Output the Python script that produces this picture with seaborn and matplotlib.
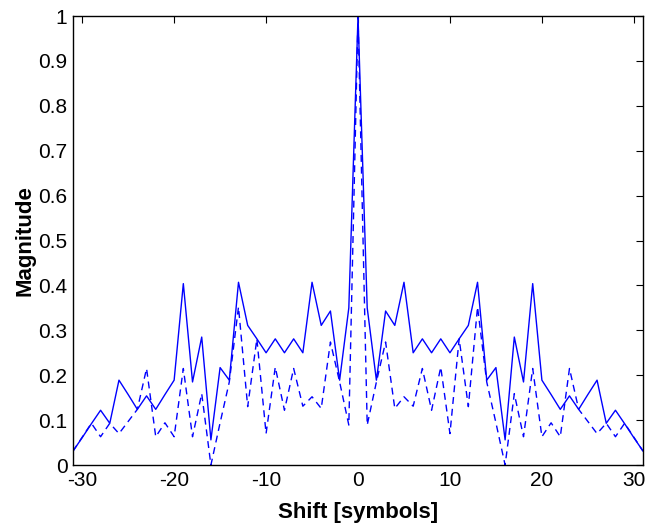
import numpy as np
import pandas as pd
import seaborn as sns
from matplotlib import pyplot as plt
from matplotlib.ticker import FuncFormatter

shift = list(range(-31, 32))

# solid curve
solid = [0.031, 0.061, 0.092, 0.122, 0.093, 0.189, 0.157, 0.124, 0.154, 0.124,
         0.157, 0.189, 0.404, 0.185, 0.285, 0.056, 0.217, 0.189, 0.407, 0.311,
         0.281, 0.250, 0.281, 0.250, 0.281, 0.250, 0.407, 0.311, 0.343, 0.189,
         0.350, 1.000,
         0.350, 0.189, 0.343, 0.311, 0.407, 0.250, 0.281, 0.250, 0.281, 0.250,
         0.281, 0.311, 0.407, 0.189, 0.217, 0.056, 0.285, 0.185, 0.404, 0.189,
         0.157, 0.124, 0.154, 0.124, 0.157, 0.189, 0.093, 0.122, 0.092, 0.061,
         0.031]

# dashed curve
dashed = [0.031, 0.062, 0.093, 0.063, 0.093, 0.070, 0.097, 0.124, 0.215, 0.063,
          0.094, 0.063, 0.215, 0.063, 0.159, 0.000, 0.094, 0.185, 0.352, 0.130,
          0.281, 0.070, 0.218, 0.122, 0.215, 0.131, 0.152, 0.126, 0.274, 0.185,
          0.089, 1.000,
          0.089, 0.185, 0.274, 0.126, 0.152, 0.131, 0.215, 0.122, 0.218, 0.070,
          0.281, 0.130, 0.352, 0.185, 0.094, 0.000, 0.159, 0.063, 0.215, 0.063,
          0.094, 0.063, 0.215, 0.124, 0.097, 0.070, 0.093, 0.063, 0.093, 0.062,
          0.031]

df = pd.DataFrame({'shift': shift, 'solid': solid, 'dashed': dashed})

sns.set_style('white')
plt.rcParams['font.family'] = ['Liberation Sans', 'DejaVu Sans']
plt.rcParams['text.color'] = 'black'
plt.rcParams['axes.labelcolor'] = 'black'
plt.rcParams['axes.unicode_minus'] = False

fig = plt.figure(figsize=(6.46, 5.27), dpi=100)
ax = fig.add_axes([0.113, 0.1176, 0.8824, 0.852])

sns.lineplot(data=df, x='shift', y='solid', ax=ax, color='#0000ff', linewidth=1.0)
sns.lineplot(data=df, x='shift', y='dashed', ax=ax, color='#0000ff', linewidth=1.0,
             dashes=False, linestyle=(0, (5, 3.5)))

ax.set_xlim(-31, 31)
ax.set_ylim(0, 1)
ax.set_xticks([-30, -20, -10, 0, 10, 20, 30])
ax.set_yticks(np.arange(0, 1.01, 0.1))
ax.yaxis.set_major_formatter(FuncFormatter(lambda v, p: '%g' % round(v, 1)))
ax.tick_params(direction='in', length=5, width=0.8, top=True, right=True,
               labelsize=15, colors='black', pad=4)
for s in ax.spines.values():
	s.set_visible(True)
	s.set_color('black')
	s.set_linewidth(1.0)

ax.set_xlabel('Shift [symbols]', fontsize=16, fontweight='bold', labelpad=9, color='black')
ax.set_ylabel('Magnitude', fontsize=16, fontweight='bold', labelpad=2, color='black')

fig.savefig('out.png', dpi=100)
